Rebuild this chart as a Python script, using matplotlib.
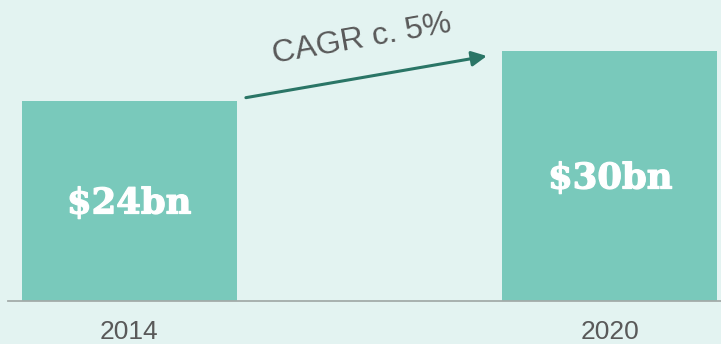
import matplotlib
matplotlib.use("Agg")
import matplotlib.pyplot as plt
import matplotlib.patheffects as pe

# Market size, $bn
years = ["2014", "2020"]
values = [24, 30]
value_labels = ["$24bn", "$30bn"]
growth_label = "CAGR c. 5%"

bg = "#e3f3f1"
bar_color = "#79c9bb"
arrow_color = "#2a7566"
text_color = "#595959"

fig = plt.figure(figsize=(7.21, 3.44), dpi=100, facecolor=bg)
ax = fig.add_axes([8 / 721, 43 / 344, 713 / 721, 301 / 344])
ax.set_facecolor(bg)

x = list(range(len(years)))
bars = ax.bar(x, values, width=0.447, color=bar_color, zorder=2)

# value label in the middle of each bar
for b, lab in zip(bars, value_labels):
    ax.text(b.get_x() + b.get_width() / 2, b.get_height() / 2 - 0.3, lab,
            ha="center", va="center", color="white", fontsize=25.5,
            fontweight="bold", family="DejaVu Serif", zorder=3,
            path_effects=[pe.withStroke(linewidth=0.9, foreground="white")])

ax.set_xlim(-0.2516, 1.2308)
ax.set_ylim(0, 36.12)

# growth arrow between the bars
ax.annotate("", xy=(0.744, values[1] - 0.6), xytext=(0.243, values[0] + 0.4),
            arrowprops=dict(arrowstyle="-|>,head_length=0.9,head_width=0.45",
                            color=arrow_color, lw=2.2, shrinkA=0, shrinkB=0))
ax.text(0.484, 31.4, growth_label, rotation=10, ha="center", va="center",
        fontsize=23, color=text_color, family="Liberation Sans",
        rotation_mode="anchor")

for side in ["top", "right", "left"]:
    ax.spines[side].set_visible(False)
ax.spines["bottom"].set_color("#a3aba9")
ax.spines["bottom"].set_linewidth(1.3)
ax.set_yticks([])
ax.set_xticks(x)
ax.set_xticklabels(years, fontsize=19, color=text_color, family="Liberation Sans")
ax.tick_params(axis="x", length=0, pad=14)

fig.savefig("out.png", dpi=100, facecolor=bg)
